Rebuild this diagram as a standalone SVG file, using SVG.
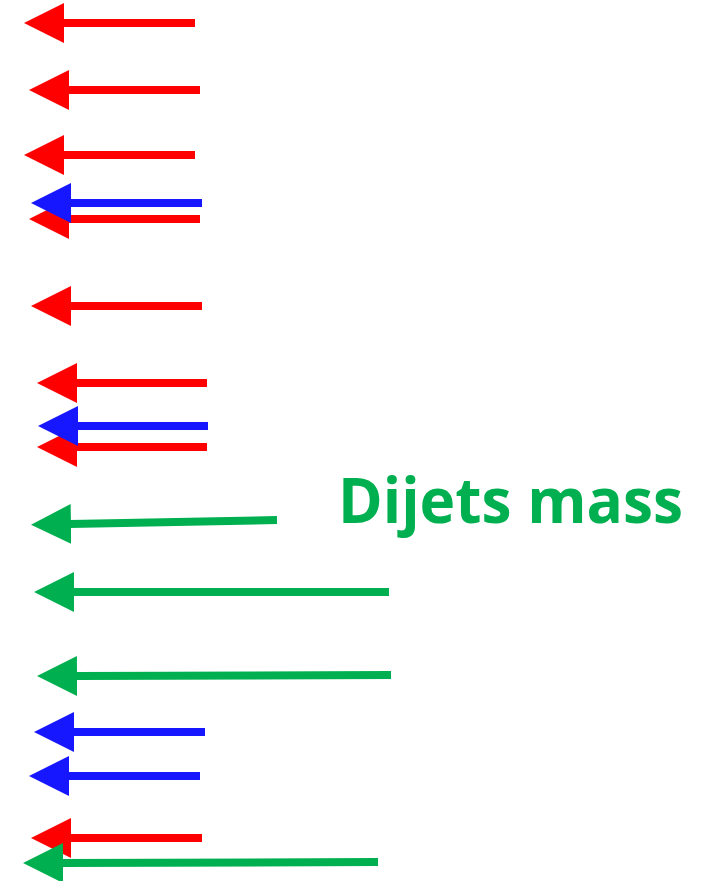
<svg xmlns="http://www.w3.org/2000/svg" width="707" height="881" viewBox="0 0 707 881">
<style>
.red{stroke:#FF0000;marker-start:url(#hr)}
.blue{stroke:#1616FF;marker-start:url(#hb)}
.green{stroke:#00B050;marker-start:url(#hg)}
line{stroke-width:8;fill:none}
.lbl{font-family:"Open Sans","Liberation Sans",sans-serif;font-weight:700;font-size:63px;fill:#00B050}
</style>
<defs>
<marker id="hr" viewBox="0 0 40 40" markerUnits="userSpaceOnUse" markerWidth="40" markerHeight="40" refX="1" refY="20" orient="auto-start-reverse"><path d="M0,0 L40,20 L0,40 z" fill="#FF0000"/></marker>
<marker id="hb" viewBox="0 0 40 40" markerUnits="userSpaceOnUse" markerWidth="40" markerHeight="40" refX="1" refY="20" orient="auto-start-reverse"><path d="M0,0 L40,20 L0,40 z" fill="#1616FF"/></marker>
<marker id="hg" viewBox="0 0 40 40" markerUnits="userSpaceOnUse" markerWidth="40" markerHeight="40" refX="1" refY="20" orient="auto-start-reverse"><path d="M0,0 L40,20 L0,40 z" fill="#00B050"/></marker>
</defs>
<rect width="707" height="881" fill="#FFFFFF"/>
<g id="connectors">
<line id="a1" class="red" x1="63" y1="23" x2="195" y2="23"/>
<line id="a2" class="red" x1="68" y1="90" x2="200" y2="90"/>
<line id="a3" class="red" x1="63" y1="155" x2="195" y2="155"/>
<line id="a5" class="red" x1="68" y1="219" x2="200" y2="219"/>
<line id="a4" class="blue" x1="70" y1="203" x2="202" y2="203"/>
<line id="a6" class="red" x1="70" y1="306" x2="202" y2="306"/>
<line id="a7" class="red" x1="76" y1="383" x2="207" y2="383"/>
<line id="a9" class="red" x1="76" y1="447" x2="207" y2="447"/>
<line id="a8" class="blue" x1="77" y1="426" x2="208" y2="426"/>
<line id="a10" class="green" x1="70" y1="524" x2="277" y2="520"/>
<line id="a11" class="green" x1="73" y1="592" x2="389" y2="592"/>
<line id="a12" class="green" x1="76" y1="676" x2="391" y2="675"/>
<line id="a13" class="blue" x1="73" y1="732" x2="205" y2="732"/>
<line id="a14" class="blue" x1="68" y1="776" x2="200" y2="776"/>
<line id="a15" class="red" x1="70" y1="838" x2="202" y2="838"/>
<line id="a16" class="green" x1="62" y1="863" x2="378" y2="862"/>
</g>
<g id="label">
<text class="lbl" x="338" y="523" textLength="345" lengthAdjust="spacingAndGlyphs">Dijets mass</text>
</g>
</svg>
